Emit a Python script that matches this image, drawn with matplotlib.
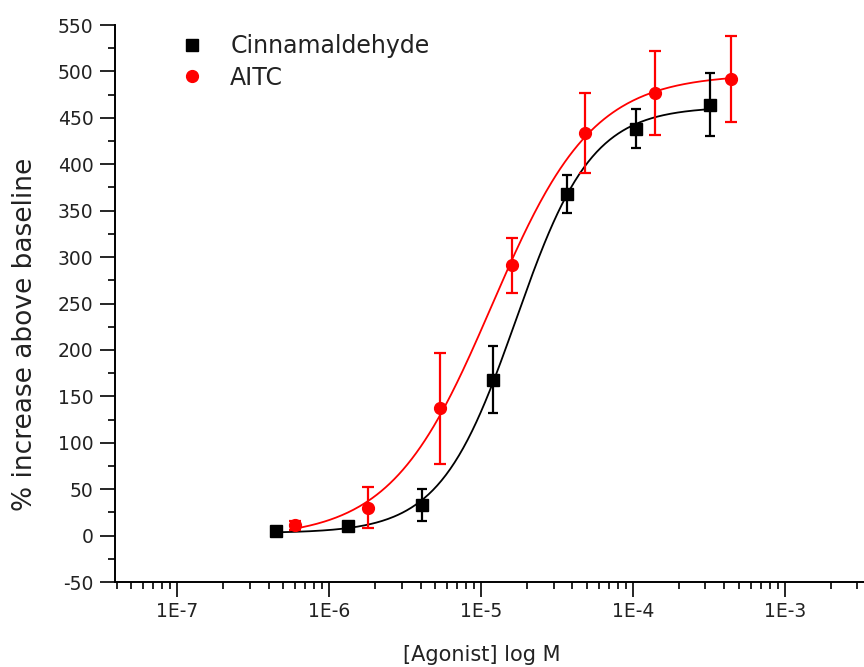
import numpy as np
import matplotlib
matplotlib.use('Agg')
import matplotlib.pyplot as plt
from matplotlib.ticker import LogLocator, NullFormatter, FixedLocator, MultipleLocator

plt.rcParams['axes.unicode_minus'] = False

# Data (concentration in M, response in %)
cinn_x = [4.5e-7, 1.33e-6, 4.1e-6, 1.2e-5, 3.7e-5, 1.05e-4, 3.2e-4]
cinn_y = [5, 10, 33, 168, 368, 438, 464]
cinn_err = [0, 0, 17, 36, 20, 21, 34]

aitc_x = [6.0e-7, 1.8e-6, 5.4e-6, 1.6e-5, 4.8e-5, 1.4e-4, 4.4e-4]
aitc_y = [11, 30, 137, 291, 434, 477, 492]
aitc_err = [5, 22, 60, 30, 43, 45, 46]

xtick_vals = [1e-7, 1e-6, 1e-5, 1e-4, 1e-3]
xtick_labels = ['1E-7', '1E-6', '1E-5', '1E-4', '1E-3']


def fit_hill(x, y):
    # grid search on logEC50 / slope, bottom & top solved by least squares
    lx = np.log10(np.asarray(x, float))
    y = np.asarray(y, float)
    lec = np.arange(-6.5, -3.0, 0.005)[:, None, None]
    n = np.arange(0.4, 3.5, 0.01)[None, :, None]
    s = 1.0 / (1.0 + 10 ** (n * (lec - lx[None, None, :])))
    a = 1 - s
    saa = (a * a).sum(-1); sab = (a * s).sum(-1); sbb = (s * s).sum(-1)
    ya = (a * y).sum(-1); yb = (s * y).sum(-1)
    det = saa * sbb - sab ** 2
    bot = (ya * sbb - yb * sab) / det
    top = (yb * saa - ya * sab) / det
    pred = bot[..., None] * a + top[..., None] * s
    sse = ((pred - y) ** 2).sum(-1)
    i, j = np.unravel_index(np.nanargmin(sse), sse.shape)
    return bot[i, j], top[i, j], lec[i, 0, 0], n[0, j, 0]


def hill(x, p):
    bot, top, lec, n = p
    return bot + (top - bot) / (1 + 10 ** (n * (lec - np.log10(x))))


fig = plt.figure(figsize=(8.64, 6.67), dpi=100)
ax = fig.add_axes([0.1331, 0.1274, 0.8669, 0.8351])

# fitted curves
for xs, ys, col in [(cinn_x, cinn_y, 'black'), (aitc_x, aitc_y, 'red')]:
    p = fit_hill(xs, ys)
    xf = np.logspace(np.log10(xs[0]), np.log10(xs[-1]), 300)
    ax.plot(xf, hill(xf, p), color=col, lw=1.3, zorder=2)

ax.errorbar(cinn_x, cinn_y, yerr=cinn_err, fmt='none', ecolor='black',
            elinewidth=1.6, capsize=3.5, capthick=1.6, zorder=3)
ax.errorbar(aitc_x, aitc_y, yerr=aitc_err, fmt='none', ecolor='red',
            elinewidth=1.6, capsize=4.2, capthick=1.6, zorder=3)
ax.plot(cinn_x, cinn_y, 's', color='black', ms=8.5, ls='none',
        label='Cinnamaldehyde', zorder=4)
ax.plot(aitc_x, aitc_y, 'o', color='red', ms=8.5, ls='none',
        label='AITC', zorder=4)

ax.set_xscale('log')
ax.set_xlim(10 ** -7.408, 10 ** -2.48)
ax.set_ylim(-50, 550)

ax.xaxis.set_major_locator(FixedLocator(xtick_vals))
ax.set_xticklabels(xtick_labels)
ax.xaxis.set_minor_locator(LogLocator(base=10, subs=np.arange(2, 10), numticks=20))
ax.xaxis.set_minor_formatter(NullFormatter())
ax.yaxis.set_major_locator(MultipleLocator(50))
ax.yaxis.set_minor_locator(MultipleLocator(25))

ax.spines['top'].set_visible(False)
ax.spines['right'].set_visible(False)
ax.spines['left'].set_linewidth(1.4)
ax.spines['bottom'].set_linewidth(1.4)
ax.tick_params(which='major', direction='out', length=10.5, width=1.2,
               labelsize=13.5, labelcolor='#222222')
ax.tick_params(which='minor', direction='out', length=5, width=1.2)
ax.tick_params(axis='x', which='major', pad=4)
ax.tick_params(axis='y', which='major', pad=5)

ax.set_xlabel('[Agonist] log M', fontsize=15, va='center', color='#222222')
ax.xaxis.set_label_coords(0.489, -0.131)
ax.set_ylabel('% increase above baseline', fontsize=19, va='center',
              color='#222222')
ax.yaxis.set_label_coords(-0.120, 0.445)

ax.legend(loc='upper left', bbox_to_anchor=(0.075, 1.0), frameon=False,
          fontsize=17, numpoints=1, handletextpad=1.1, labelspacing=0.3,
          handlelength=1.0, borderaxespad=0.0, labelcolor='#222222')

plt.savefig('out.png', dpi=100)
